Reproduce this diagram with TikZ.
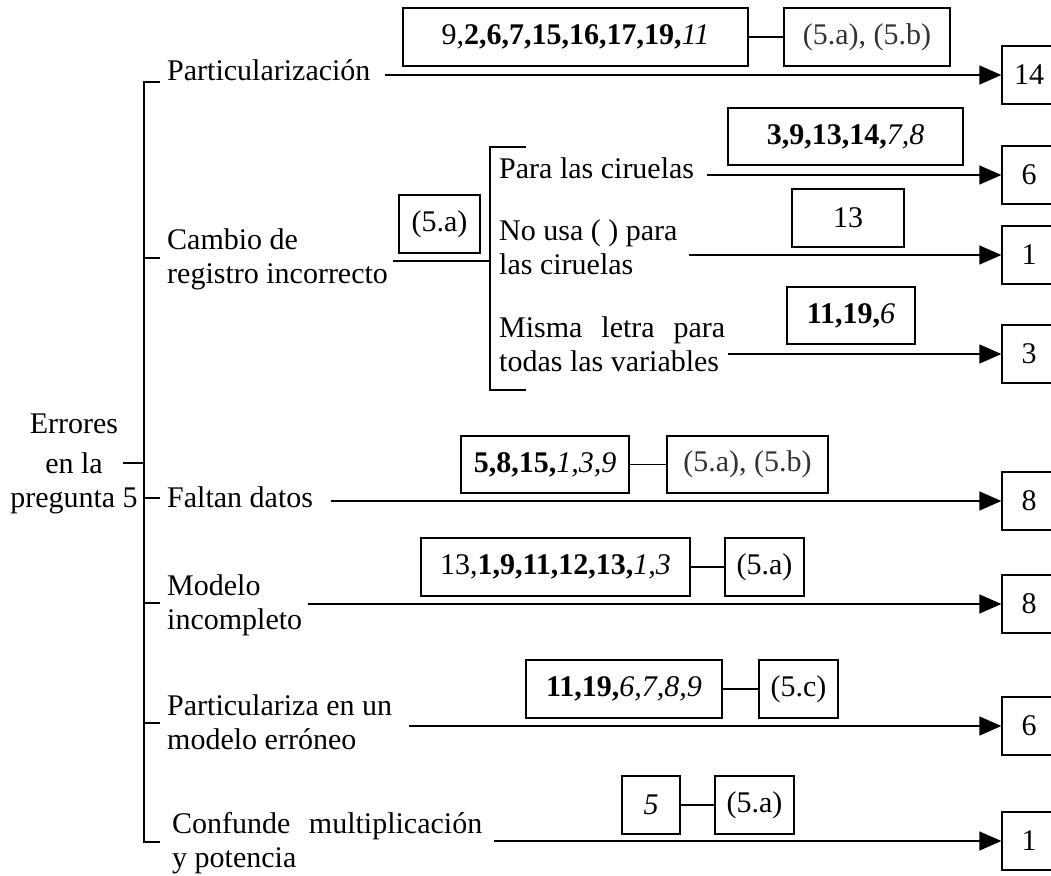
\documentclass[tikz,border=0pt]{standalone}
\usepackage{fontspec}
\setmainfont{Liberation Serif}
\usetikzlibrary{arrows.meta}
\newcommand\twolines[2]{\vtop{\hbox{#1}\hbox{#2}}}
\newcommand\rootline[1]{\hbox to 130pt{\hss #1\hss}}
\newcommand\numtxt[1]{#1\hspace*{12pt}}
\begin{document}
\begin{tikzpicture}[x=1pt,y=-1pt,
  every node/.style={inner sep=0pt, font=\fontsize{30}{34}\selectfont},
  line/.style={line width=1.3pt},
  arr/.style={line width=1.3pt, -{Triangle[length=22pt,width=19pt]}},
  box/.style={draw, line width=1.3pt, minimum height=58pt},
  numbox/.style={box, minimum width=66pt},
  lbl/.style={anchor=base west},
  refb/.style={box, text=black!80}
]
\useasboundingbox (0,0) rectangle (1051,875);

% ---- labels ----
\node[anchor=base] (root) at (74,433) {\vtop{\rootline{Errores}\vskip6pt\rootline{en la}\rootline{pregunta 5}}};
\node[lbl] (lPart) at (167,80) {Particularización};
\node[lbl] (lCamb) at (167,249) {\twolines{Cambio de}{registro incorrecto}};
\node[lbl] (lPara) at (499,178) {Para las ciruelas};
\node[lbl] (lNo)   at (499,240) {\twolines{No usa ( ) para}{las ciruelas}};
\node[lbl] (lMis)  at (499,337) {\twolines{\makebox[226pt][s]{Misma letra para}}{todas las variables}};
\node[lbl] (lFal)  at (167,507) {Faltan datos};
\node[lbl] (lMod)  at (167,595) {\twolines{Modelo}{incompleto}};
\node[lbl] (lPz)   at (167,715) {\twolines{Particulariza en un}{modelo erróneo}};
\node[lbl] (lConf) at (172,833) {\twolines{\makebox[310pt][s]{Confunde multiplicación}}{y potencia}};

% ---- result boxes ----
\node[numbox] (n14) at (1035,75) {\numtxt{14}};
\node[numbox] (n6a) at (1035,175) {\numtxt{6}};
\node[numbox] (n1a) at (1035,255) {\numtxt{1}};
\node[numbox] (n3)  at (1035,354) {\numtxt{3}};
\node[numbox] (n8a) at (1035,501) {\numtxt{8}};
\node[numbox] (n8b) at (1035,604) {\numtxt{8}};
\node[numbox] (n6b) at (1035,726) {\numtxt{6}};
\node[numbox] (n1b) at (1035,841) {\numtxt{1}};

% ---- student boxes ----
\node[box, minimum width=345pt] (b1) at (575.5,37) {9,\textbf{2,6,7,15,16,17,19,}\textit{11}};
\node[refb, minimum width=166pt] (c1) at (867,37) {(5.a), (5.b)};
\node[box, minimum width=81pt] (rA) at (439.5,224) {(5.a)};
\node[box, minimum width=235pt, minimum height=57pt] (b2) at (845.5,136.5) {\textbf{3,9,13,14,}\textit{7,8}};
\node[box, minimum width=112pt] (b3) at (848,218) {13};
\node[box, minimum width=128pt, minimum height=57pt] (b4) at (851,315.5) {\textbf{11,19,}\textit{6}};
\node[box, minimum width=168pt, minimum height=57pt] (b5) at (545,464.5) {\textbf{5,8,15,}\textit{1,3,9}};
\node[refb, minimum width=161pt, minimum height=57pt] (c5) at (747.5,464.5) {(5.a), (5.b)};
\node[box, minimum width=269pt] (b6) at (555.5,567) {13,\textbf{1,9,11,12,13,}\textit{1,3}};
\node[box, minimum width=79pt] (c6) at (764.5,567) {(5.a)};
\node[box, minimum width=196pt] (b7) at (624,689) {\textbf{11,19,}\textit{6,7,8,9}};
\node[box, minimum width=79pt] (c7) at (798.5,689) {(5.c)};
\node[box, minimum width=58pt] (b8) at (651,805) {\textit{5}};
\node[box, minimum width=79pt] (c8) at (754.5,805) {(5.a)};

\draw[line] (b1) -- (c1);
\draw[line] (b5) -- (c5);
\draw[line] (b6) -- (c6);
\draw[line] (b7) -- (c7);
\draw[line] (b8) -- (c8);

% ---- tree lines ----
\coordinate (tTop) at (144,82);
\coordinate (tBot) at (144,842);
\draw[line] (160,82) -- (tTop) -- (tBot) -- (160,842);
\foreach \yy in {258,498,603,723} \draw[line] (144,\yy) -- (160,\yy);
\draw[line] (123,463) -- (144,463);

% sub bracket
\coordinate (sTop) at (490,147);
\coordinate (sBot) at (490,390);
\draw[line] (526,147) -- (sTop) -- (sBot) -- (526,390);
\draw[line] (393,261) -- (490,261);

% ---- arrows ----
\coordinate (a1) at (385,75);
\coordinate (a2) at (707,175);
\coordinate (a3) at (689,255);
\coordinate (a4) at (728,354);
\coordinate (a5) at (331,501);
\coordinate (a6) at (308,604);
\coordinate (a7) at (409,726);
\coordinate (a8) at (494,841);
\draw[arr] (a1) -- (n14.west);
\draw[arr] (a2) -- (n6a.west);
\draw[arr] (a3) -- (n1a.west);
\draw[arr] (a4) -- (n3.west);
\draw[arr] (a5) -- (n8a.west);
\draw[arr] (a6) -- (n8b.west);
\draw[arr] (a7) -- (n6b.west);
\draw[arr] (a8) -- (n1b.west);
\end{tikzpicture}
\end{document}
